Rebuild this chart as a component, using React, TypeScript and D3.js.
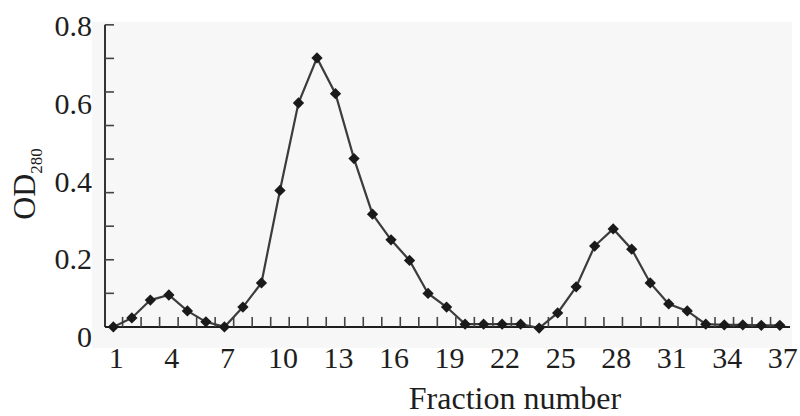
import * as d3 from "d3";

// fraction numbers and OD280
const fractions = [
  1, 2, 3, 4, 5, 6, 7, 8, 9, 10, 11, 12, 13, 14, 15, 16, 17, 18, 19,
  20, 21, 22, 23, 24, 25, 26, 27, 28, 29, 30, 31, 32, 33, 34, 35, 36, 37,
];
const od280 = [
  0.026, 0.049, 0.095, 0.108, 0.067, 0.039, 0.026, 0.077, 0.139, 0.377,
  0.602, 0.718, 0.626, 0.459, 0.316, 0.25, 0.197, 0.112, 0.077,
  0.033, 0.033, 0.033, 0.033, 0.023, 0.062, 0.129, 0.234, 0.278, 0.226,
  0.139, 0.085, 0.067, 0.033, 0.031, 0.031, 0.03, 0.03,
];
const xTickLabels = [1, 4, 7, 10, 13, 16, 19, 22, 25, 28, 31, 34, 37];
const yTickLabels = [0, 0.2, 0.4, 0.6, 0.8];

const width = 800;
const height = 416;
const font = "'Liberation Serif', 'Times New Roman', serif";
const ink = "#1e1e1e";

export default function App() {
  const x = d3.scaleLinear().domain([0.55, 37.55]).range([105, 790]);
  const y = d3.scaleLinear().domain([0, 0.8]).range([337, 26]);

  // the axes cross a little above zero in the original figure
  const axisLow = 0.026;
  const axisHigh = 0.803;
  const yMinor = d3.range(10).map((i) => axisLow + (i * (axisHigh - axisLow)) / 9);
  const xMinor = d3.range(1.5, 37, 1);

  const points = fractions.map((f, i) => ({ f, v: od280[i] }));
  const line = d3
    .line<{ f: number; v: number }>()
    .x((d) => x(d.f))
    .y((d) => y(d.v));
  const marker = d3.symbol().type(d3.symbolSquare).size(64)();

  const x0 = x(0.55);
  const yAxisY = y(axisLow);

  return (
    <svg
      width={width}
      height={height}
      style={{ position: "absolute", left: 0, top: 0, background: "#fff" }}
      fontFamily={font}
    >
      <rect x={92} y={22} width={700} height={326} fill="#f7f7f7" />

      {/* y axis */}
      <line x1={x0} y1={y(axisHigh)} x2={x0} y2={yAxisY} stroke={ink} strokeWidth={1.8} />
      {yMinor.map((t, i) => (
        <line key={i} x1={x0} y1={y(t)} x2={x0 + 9} y2={y(t)} stroke="#444" strokeWidth={1.6} />
      ))}
      {yTickLabels.map((t) => (
        <text
          key={t}
          x={92}
          y={y(t)}
          dy="0.34em"
          textAnchor="end"
          fontSize={30}
          fill={ink}
        >
          {t === 0 ? "0" : t.toFixed(1)}
        </text>
      ))}

      {/* x axis */}
      <line x1={x0} y1={yAxisY} x2={x(37.55)} y2={yAxisY} stroke={ink} strokeWidth={2} />
      {xMinor.map((t) => (
        <line key={t} x1={x(t)} y1={yAxisY} x2={x(t)} y2={yAxisY - 10} stroke="#444" strokeWidth={1.6} />
      ))}
      {xTickLabels.map((t) => (
        <text key={t} x={x(t) + 3} y={368} textAnchor="middle" fontSize={30} fill={ink}>
          {t}
        </text>
      ))}

      {/* data */}
      <path d={line(points) ?? ""} fill="none" stroke="#3c3c3c" strokeWidth={2.2} />
      {points.map((d) => (
        <path
          key={d.f}
          d={marker}
          transform={`translate(${x(d.f)},${y(d.v)}) rotate(45)`}
          fill="#1a1a1a"
        />
      ))}

      {/* titles */}
      <text x={515} y={409} textAnchor="middle" fontSize={32} fill={ink}>
        Fraction number
      </text>
      <text transform="translate(35,184) rotate(-90)" textAnchor="middle" fontSize={32} fill={ink}>
        OD
        <tspan fontSize={17} dy={7}>
          280
        </tspan>
      </text>
    </svg>
  );
}
